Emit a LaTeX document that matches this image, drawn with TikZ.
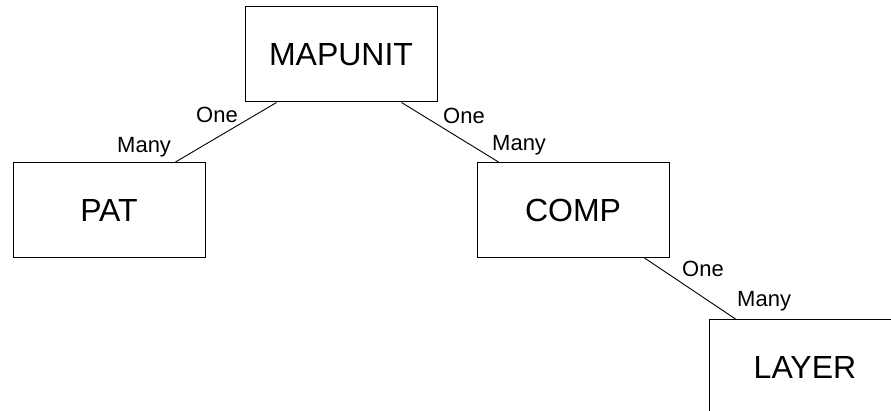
\documentclass[tikz,border=0pt]{standalone}
\usepackage{fontspec}
\setmainfont{Liberation Sans}
\usetikzlibrary{calc}
\begin{document}
\begin{tikzpicture}[x=1pt,y=-1pt,
  entity/.style={draw=black, line width=1pt, minimum width=192pt, minimum height=95pt,
    inner sep=0pt, font=\fontsize{32}{36}\selectfont},
  link/.style={line width=0.9pt},
  card/.style={anchor=base west, inner sep=0pt, font=\fontsize{22}{24}\selectfont}]
  \useasboundingbox (0,0) rectangle (891,411);

  % entities
  \node[entity] (mapunit) at (341,54.5) {MAPUNIT};
  \node[entity] (pat)     at (109,210)  {PAT};
  \node[entity] (comp)    at (573,210)  {COMP};
  \node[entity] (layer)   at (805,367)  {LAYER};

  % relationship end points
  \coordinate (mp) at ($(mapunit.south west)+(32,0)$);
  \coordinate (pm) at ($(pat.north west)+(163,0)$);
  \coordinate (mc) at ($(mapunit.south west)+(157,0)$);
  \coordinate (cm) at ($(comp.north west)+(22,0)$);
  \coordinate (cl) at ($(comp.south west)+(168,0)$);
  \coordinate (lc) at ($(layer.north west)+(27,0)$);

  \draw[link] (mp) -- (pm);
  \draw[link] (mc) -- (cm);
  \draw[link] (cl) -- (lc);

  % cardinalities
  \node[card] (c1) at (196,123)   {One};
  \node[card] (c2) at (117,153)   {Many};
  \node[card] (c3) at (443,124)   {One};
  \node[card] (c4) at (492,151)   {Many};
  \node[card] (c5) at (682,277)   {One};
  \node[card] (c6) at (737,306.5) {Many};
\end{tikzpicture}
\end{document}
